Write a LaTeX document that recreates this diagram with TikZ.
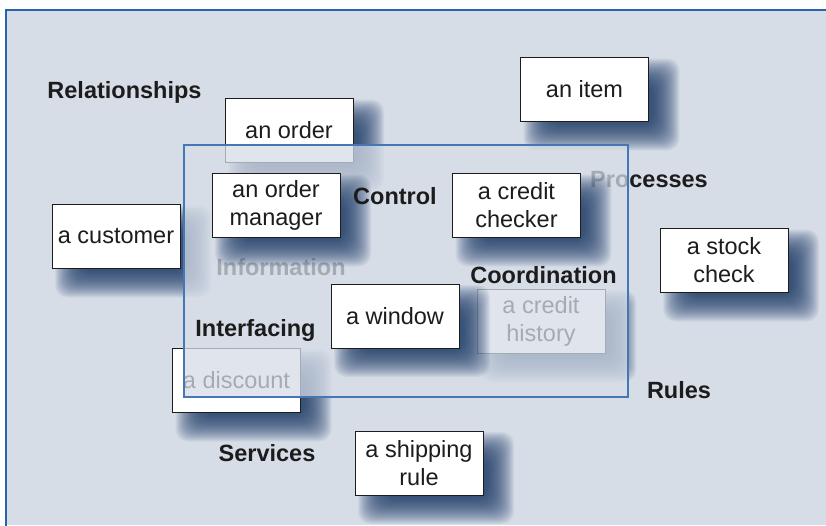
\documentclass[tikz,border=0pt]{standalone}
\usepackage{fontspec}
\setmainfont{Liberation Sans}
\definecolor{bgc}{RGB}{214,221,231}
\definecolor{frameblue}{RGB}{40,100,170}
\definecolor{innerblue}{RGB}{70,118,180}
\definecolor{shadowc}{RGB}{25,55,100}
\definecolor{ink}{RGB}{28,28,28}
% soft drop shadow of a 128x64 card centred at (#1,#2): offset (17,15), blur 14
\newcommand{\dropshadow}[2]{%
  \foreach \i in {0,...,27}{%
    \fill[shadowc, fill opacity=0.055, rounded corners=12pt]
      ({#1-64+17-14+\i},{#2-32+15-14+\i}) rectangle ({#1+64+17+14-\i},{#2+32+15+14-\i});
  }}
\tikzset{
  card/.style={draw=ink, line width=1pt, fill=white, minimum width=128pt, minimum height=64pt,
    inner sep=0pt, align=center, text=ink, font=\fontsize{23.5}{28}\selectfont},
  lbl/.style={anchor=base, text=ink, inner sep=0pt, font=\fontsize{23.5}{28}\selectfont\bfseries},
  veil/.style={fill=bgc, fill opacity=0.74},
  innerframe/.style={draw=innerblue, line width=2pt},
  outerframe/.style={draw=frameblue, line width=2.5pt},
}
\begin{document}
\begin{tikzpicture}[x=1pt,y=-1pt]
\useasboundingbox (0,0) rectangle (826,525);
\fill[white] (0,0) rectangle (826,525);
\fill[bgc] (6,10) rectangle (826,525);
\draw[outerframe] (6,526) -- (6,10) -- (827,10);

% lower layer (beneath the translucent area)
\dropshadow{584.5}{89.5}
\node[card] (item) at (584.5,89.5) {an item};
\dropshadow{289}{130.5}
\node[card] (order) at (289,130.5) {an order};
\dropshadow{116}{236.5}
\node[card] (customer) at (116,236.5) {a customer};
\dropshadow{724}{260.5}
\node[card] (stock) at (724,260.5) {a stock\\check};
\dropshadow{541}{321}
\node[card] (history) at (541,321) {a credit\\history};
\dropshadow{236.5}{380.5}
\node[card] (discount) at (236.5,380.5) {a discount};
\dropshadow{419}{463}
\node[card] (shipping) at (419,463) {a shipping\\rule};
\node[lbl] (information) at (281,275) {Information};
\node[lbl] (processes) at (649,187) {Processes};

% translucent area
\fill[veil] (184,145) rectangle (628,397);
\draw[innerframe] (184,145) rectangle (628,397);

% upper layer
\dropshadow{276}{205.5}
\node[card] (manager) at (276,205.5) {an order\\manager};
\dropshadow{516.5}{205.5}
\node[card] (checker) at (516.5,205.5) {a credit\\checker};
\dropshadow{395}{316}
\node[card] (window) at (395,316) {a window};

\node[lbl] (relationships) at (124.5,98) {Relationships};
\node[lbl] (control) at (395,204) {Control};
\node[lbl] (coordination) at (543.5,283) {Coordination};
\node[lbl] (interfacing) at (255.5,336) {Interfacing};
\node[lbl] (rules) at (679,398) {Rules};
\node[lbl] (services) at (267,461) {Services};
\end{tikzpicture}
\end{document}
